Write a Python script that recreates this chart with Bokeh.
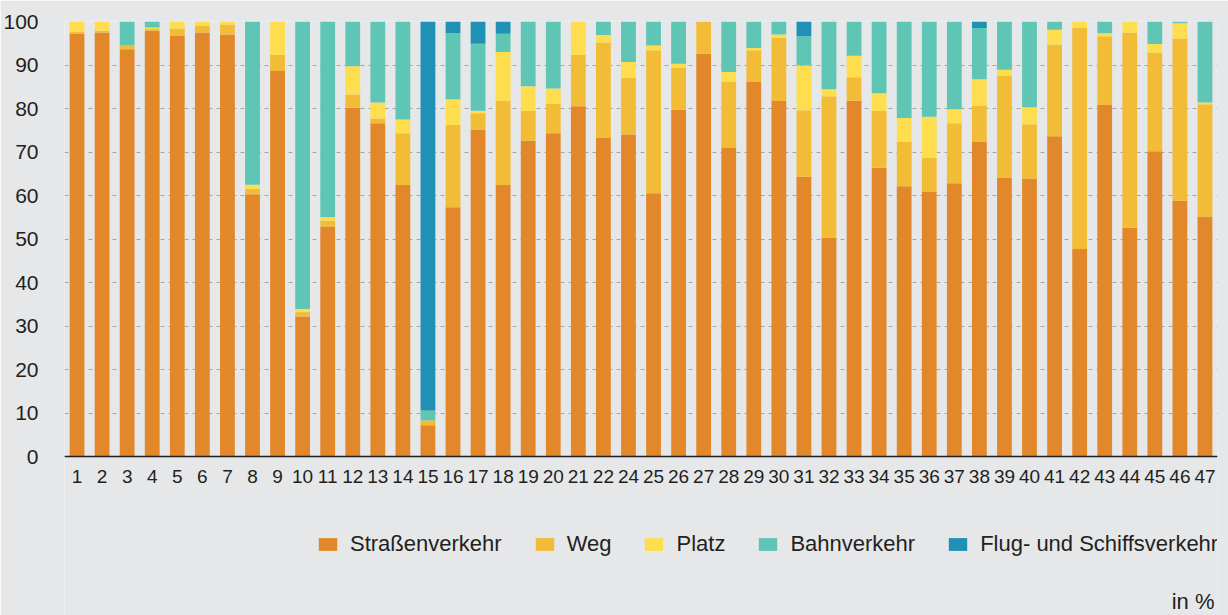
from bokeh.plotting import figure
from bokeh.models import (ColumnDataSource, FactorRange, Range1d, FixedTicker, Legend,
                          LegendItem, Label)
from bokeh.embed import file_html
from bokeh.resources import INLINE

labels = ["1", "2", "3", "4", "5", "6", "7", "8", "9", "10", "11", "12", "13", "14",
          "15", "16", "17", "18", "19", "20", "21", "22", "24", "25", "26", "27", "28",
          "29", "30", "31", "32", "33", "34", "35", "36", "37", "38", "39", "40", "41",
          "42", "43", "44", "45", "46", "47"]

strasse = [97.2, 97.5, 93.6, 97.9, 96.8, 97.5, 97.0, 60.3, 88.6, 32.2, 52.9, 80.2, 76.6, 62.4,
           7.2, 57.3, 75.2, 62.4, 72.6, 74.3, 80.5, 73.2, 74.0, 60.5, 79.7, 92.6, 70.9,
           86.1, 81.7, 64.3, 50.3, 81.8, 66.4, 62.1, 60.8, 62.8, 72.4, 64.1, 63.9, 73.6,
           47.7, 80.8, 52.6, 70.2, 58.8, 55.2]
weg = [0.5, 0.4, 0.9, 0.4, 1.6, 1.6, 2.3, 1.2, 3.7, 1.0, 1.3, 3.0, 1.1, 11.9,
       1.1, 18.9, 3.7, 19.3, 6.8, 6.8, 11.8, 22.0, 13.0, 32.9, 9.7, 7.4, 15.3,
       7.3, 14.5, 15.3, 32.5, 5.4, 13.0, 10.2, 7.8, 13.8, 8.3, 23.5, 12.5, 21.1,
       50.8, 15.8, 44.8, 22.7, 37.3, 25.8]
platz = [2.3, 2.1, 0.0, 0.3, 1.6, 0.9, 0.7, 1.0, 7.7, 0.7, 0.8, 6.5, 3.7, 3.2,
         0.0, 5.9, 0.6, 11.3, 5.7, 3.5, 7.7, 1.7, 3.7, 1.1, 0.9, 0.0, 2.2,
         0.5, 0.8, 10.3, 1.6, 4.9, 4.1, 5.5, 9.5, 3.2, 6.0, 1.3, 3.9, 3.4,
         1.5, 0.7, 2.6, 1.9, 3.5, 0.4]
bahn = [0.0, 0.0, 5.5, 1.4, 0.0, 0.0, 0.0, 37.5, 0.0, 66.1, 45.0, 10.3, 18.6, 22.5,
        2.3, 15.2, 15.4, 4.2, 14.9, 15.4, 0.0, 3.1, 9.3, 5.5, 9.7, 0.0, 11.6,
        6.1, 3.0, 6.7, 15.6, 7.9, 16.5, 22.2, 21.9, 20.2, 11.8, 11.1, 19.7, 1.9,
        0.0, 2.7, 0.0, 5.2, 0.4, 18.6]
flug = [0.0, 0.0, 0.0, 0.0, 0.0, 0.0, 0.0, 0.0, 0.0, 0.0, 0.0, 0.0, 0.0, 0.0,
        89.4, 2.7, 5.1, 2.8, 0.0, 0.0, 0.0, 0.0, 0.0, 0.0, 0.0, 0.0, 0.0,
        0.0, 0.0, 3.4, 0.0, 0.0, 0.0, 0.0, 0.0, 0.0, 1.5, 0.0, 0.0, 0.0,
        0.0, 0.0, 0.0, 0.0, 0.0, 0.0]

series_names = ["Straßenverkehr", "Weg", "Platz", "Bahnverkehr", "Flug- und Schiffsverkehr"]
series_keys = ["strasse", "weg", "platz", "bahn", "flug"]
colors = ["#e2882a", "#f2bc36", "#fedd4f", "#5fc5b4", "#2190b5"]
y_ticks = [0, 10, 20, 30, 40, 50, 60, 70, 80, 90, 100]
unit_text = "in %"

BG = "#e6e7e9"
TXT = "#231f20"
FONT = "Liberation Sans"

W, H = 1228, 615
LEFT, RIGHT, TOP = 64, 11, 21
PX_PER_UNIT = 4.35
frame_h = H - TOP
y_bottom = 100 - frame_h / PX_PER_UNIT

source = ColumnDataSource(data=dict(x=labels, strasse=strasse, weg=weg, platz=platz,
                                    bahn=bahn, flug=flug))

p = figure(width=W, height=H, x_range=FactorRange(factors=labels, range_padding=0),
           y_range=Range1d(y_bottom, 100), output_backend="svg", toolbar_location=None,
           min_border_left=LEFT, min_border_right=RIGHT, min_border_top=TOP,
           min_border_bottom=0)
p.background_fill_color = BG
p.border_fill_color = BG
p.outline_line_color = None

renderers = p.vbar_stack(series_keys, x="x", width=0.59, color=colors, line_color=None,
                         source=source)

p.xgrid.grid_line_color = None
p.ygrid.grid_line_color = "#a6a6a6"
p.ygrid.grid_line_dash = "4 4"
p.ygrid.grid_line_width = 1
p.ygrid.ticker = FixedTicker(ticks=y_ticks)

p.yaxis.ticker = FixedTicker(ticks=y_ticks)
p.yaxis.axis_line_color = None
p.yaxis.major_tick_line_color = None
p.yaxis.minor_tick_line_color = None
p.yaxis.major_label_standoff = 20
p.yaxis.major_label_text_font = FONT
p.yaxis.major_label_text_font_size = "21px"
p.yaxis.major_label_text_color = TXT

p.xaxis.fixed_location = 0
p.xaxis.axis_line_color = TXT
p.xaxis.axis_line_width = 1.6
p.xaxis.major_tick_line_color = None
p.xaxis.minor_tick_line_color = None
p.xaxis.major_tick_out = 0
p.xaxis.major_tick_in = 0
p.xaxis.major_label_standoff = 13
p.xaxis.major_label_text_font = FONT
p.xaxis.major_label_text_font_size = "19px"
p.xaxis.major_label_text_color = TXT

lg = Legend(items=[LegendItem(label=n, renderers=[r]) for n, r in zip(series_names, renderers)])
lg.orientation = "horizontal"
lg.location = (252, 58)
lg.background_fill_alpha = 0
lg.border_line_color = None
lg.padding = 0
lg.margin = 0
lg.spacing = 31
lg.glyph_width = 23
lg.glyph_height = 16
lg.label_standoff = 11
lg.label_text_font = FONT
lg.label_text_font_size = "22px"
lg.label_text_color = TXT
p.add_layout(lg, "center")

unit = Label(x=W - LEFT - RIGHT - 3, y=14, x_units="screen", y_units="screen", text=unit_text,
             text_align="right", text_baseline="alphabetic", text_font=FONT,
             text_font_size="22px", text_color=TXT)
p.add_layout(unit)

open("out.html", "w").write(file_html(p, INLINE))
